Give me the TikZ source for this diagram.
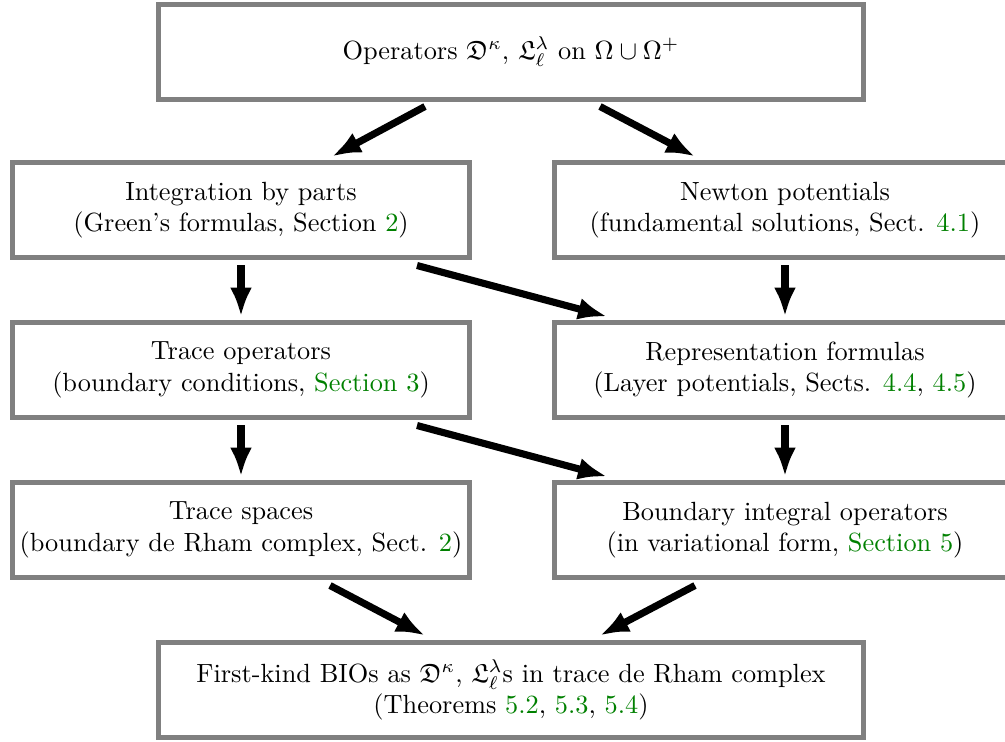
\documentclass[tikz,border=0pt]{standalone}
\usepackage{amsfonts}
\usetikzlibrary{arrows.meta,calc}
\definecolor{lgreen}{RGB}{0,128,0}
\newcommand{\lk}[1]{\textcolor{lgreen}{#1}}
\begin{document}
\begin{tikzpicture}[x=0.38pt,y=-0.38pt,
  box/.style={draw=gray,line width=1.9pt,rectangle,align=center,inner sep=0pt,
    minimum height=36.1pt},
  lbox/.style={box,minimum width=173.7pt},
  rbox/.style={box,minimum width=175.2pt},
  wbox/.style={box,minimum width=267.9pt},
  arr/.style={line width=2.7pt,-{Latex[length=11pt,width=8.4pt]}}]
\useasboundingbox (0,0) rectangle (1005,742);
\clip (0,0) rectangle (1005,742);
\node[wbox] (top) at (511,52) {Operators $\mathfrak{D}^\kappa$, $\mathfrak{L}_\ell^\lambda$ on $\Omega\cup\Omega^+$};
\node[lbox] (ibp) at (241,210) {Integration by parts\\(Green's formulas, Section \lk{2})};
\node[rbox] (newt) at (785,210) {Newton potentials\\(fundamental solutions, Sect. \lk{4.1})};
\node[lbox] (tro) at (241,370) {Trace operators\\(boundary conditions, \lk{Section 3})};
\node[rbox] (rep) at (785,370) {Representation formulas\\(Layer potentials, Sects. \lk{4.4}, \lk{4.5})};
\node[lbox] (ts) at (241,530) {Trace spaces\\(boundary de Rham complex, Sect. \lk{2})};
\node[rbox] (bio) at (785,530) {Boundary integral operators\\(in variational form, \lk{Section 5})};
\node[wbox] (bot) at (511,690) {First-kind BIOs as $\mathfrak{D}^\kappa$, $\mathfrak{L}_\ell^\lambda$s in trace de Rham complex\\(Theorems \lk{5.2}, \lk{5.3}, \lk{5.4})};
\draw[arr] ($(top.south)+(-86,4.5)$) -- ($(ibp.north)+(91,-3.5)$);
\draw[arr] ($(top.south)+(89,4.5)$) -- ($(newt.north)+(-90,-3.5)$);
\draw[arr] ($(ibp.south)+(0,5)$) -- ($(tro.north)+(0,-3.5)$);
\draw[arr] ($(newt.south)+(0,5)$) -- ($(rep.north)+(0,-3.5)$);
\draw[arr] ($(ibp.south)+(176,5.5)$) -- ($(rep.north)+(-178,-3.5)$);
\draw[arr] ($(tro.south)+(0,5)$) -- ($(ts.north)+(0,-3.5)$);
\draw[arr] ($(rep.south)+(0,5)$) -- ($(bio.north)+(0,-3.5)$);
\draw[arr] ($(tro.south)+(176,5.5)$) -- ($(bio.north)+(-178,-3.5)$);
\draw[arr] ($(ts.south)+(89,5.5)$) -- ($(bot.north)+(-86,-4.5)$);
\draw[arr] ($(bio.south)+(-90,5.5)$) -- ($(bot.north)+(89,-4.5)$);
\end{tikzpicture}
\end{document}
